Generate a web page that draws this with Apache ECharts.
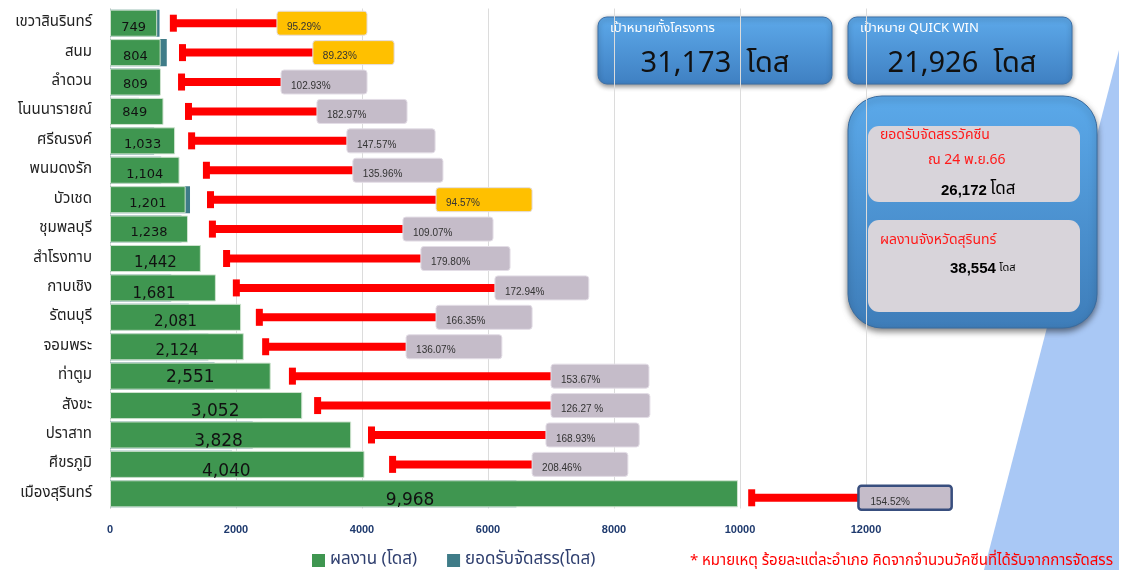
<!DOCTYPE html>
<html><head><meta charset="utf-8">
<script src="https://cdn.jsdelivr.net/npm/echarts@6/dist/echarts.min.js"></script>
<style>html,body{margin:0;padding:0;background:#fff}#c{width:1127px;height:570px}</style>
</head><body><div id="c"></div>
<script>
// ---------- data ----------
const districts = ['เขวาสินรินทร์','สนม','ลำดวน','โนนนารายณ์','ศรีณรงค์','พนมดงรัก','บัวเชด','ชุมพลบุรี','สำโรงทาบ','กาบเชิง','รัตนบุรี','จอมพระ','ท่าตูม','สังขะ','ปราสาท','ศีขรภูมิ','เมืองสุรินทร์'];
const performance = [749,804,809,849,1033,1104,1201,1238,1442,1681,2081,2124,2551,3052,3828,4040,9968];
const allocation  = [786,901,786,464,700,812,1270,1135,802,972,1251,1561,1660,2417,2266,1938,6451];
const percentLabels = ['95.29%','89.23%','102.93%','182.97%','147.57%','135.96%','94.57%','109.07%','179.80%','172.94%','166.35%','136.07%','153.67%','126.27 %','168.93%','208.46%','154.52%'];
const percentValues = [95.29,89.23,102.93,182.97,147.57,135.96,94.57,109.07,179.80,172.94,166.35,136.07,153.67,126.27,168.93,208.46,154.52];
// red marker: start, box start, box end (axis units)
const markStart = [950,1095,1080,1190,1240,1475,1540,1570,1795,1950,2315,2415,2840,3240,4095,4430,10130];
const boxStart  = [2650,3220,2715,3285,3760,3855,5175,4650,4935,6110,5175,4700,7000,7000,6920,6700,11880];
const boxEnd    = [4080,4510,4080,4715,5160,5285,6700,6080,6350,7600,6700,6220,8555,8570,8400,8220,13360];
const xTicks = [0,2000,4000,6000,8000,10000,12000];
const legendNames = ['ผลงาน (โดส)','ยอดรับจัดสรร(โดส)'];

// ---------- label styling (not data) ----------
const labelSize = [13,13,13,13,13,13,13,13,15,15,15,15,17,17,17,17,17];
const labelOffset = [[0,4],[0,4],[0,3],[-2,1],[0,4],[0,4],[0,4],[0,4],[0,5],[-9,6],[0,5],[0,4],[0,1],[9,6],[-12,7],[-11,7],[-14,7]];

const THAI = "'Noto Sans Thai','Noto Sans Thai UI','Noto Sans','DejaVu Sans',sans-serif";
const chart = echarts.init(document.getElementById('c'), null, {renderer:'canvas'});

const greenData = performance.map((v,i)=>({value:v,label:{fontSize:labelSize[i],offset:labelOffset[i]}}));
const markData = districts.map((d,i)=>[i, markStart[i], boxStart[i], boxEnd[i], percentValues[i]]);

const option = {
  animation:false,
  backgroundColor:'#ffffff',
  grid:{left:110, right:261, top:8.5, bottom:61.5, containLabel:false},
  legend:{
    data:legendNames, left:307, top:547, itemWidth:13, itemHeight:13, itemGap:30,
    icon:'rect', itemStyle:{borderWidth:0},
    textStyle:{fontSize:17, color:'#2F3F6F', fontFamily:THAI}
  },
  xAxis:{
    type:'value', min:xTicks[0], max:xTicks[xTicks.length-1], interval:2000,
    axisLine:{show:false}, axisTick:{show:false},
    axisLabel:{color:'#1F3A6E', fontWeight:'bold', fontSize:11, margin:16, fontFamily:'Arial, Liberation Sans, sans-serif',
      formatter:v=>String(v)},
    splitLine:{show:true, lineStyle:{color:'#DCDCDC', width:1}}
  },
  yAxis:{
    type:'category', data:districts, inverse:true,
    axisLine:{show:true, lineStyle:{color:'#D9D9D9'}}, axisTick:{show:false},
    axisLabel:{color:'#222', fontSize:15, margin:18, fontFamily:THAI}
  },
  series:[
    {
      name:legendNames[0], type:'bar', data:greenData, z:3,
      barCategoryGap:'8%', barGap:'-100%',
      itemStyle:{color:'#3F9650', borderColor:'#CFE3CF', borderWidth:1},
      label:{show:true, position:'inside', color:'#111', fontFamily:'Tahoma, DejaVu Sans, sans-serif',
        formatter:p=>p.value.toLocaleString('en-US')}
    },
    {
      name:legendNames[1], type:'bar', data:allocation, z:2,
      barCategoryGap:'8%', barGap:'-100%',
      itemStyle:{color:'#3F7C88'}
    },
    {
      type:'custom', z:5, data:markData, encode:{x:[1,2,3], y:0}, clip:false,
      renderItem:(params, api)=>{
        const i = params.dataIndex;
        const cat = api.value(0);
        const p0 = api.coord([api.value(1), cat]);
        const p1 = api.coord([api.value(2), cat]);
        const p2 = api.coord([api.value(3), cat]);
        const pv = api.value(4);
        const last = i === districts.length-1;
        const cy = p0[1] + (last ? 4 : 0);
        const fill = pv < 100 ? '#FFC000' : '#C5BCC9';
        return {type:'group', children:[
          {type:'rect', shape:{x:p0[0]+3, y:cy-4, width:p1[0]-p0[0]-3, height:8}, style:{fill:'#FF0000'}},
          {type:'rect', shape:{x:p0[0], y:cy-8.5, width:7, height:17}, style:{fill:'#FF0000'}},
          {type:'rect', shape:{x:p1[0], y:cy-12, width:p2[0]-p1[0], height:24, r:3},
            style:{fill:fill, stroke:last?'#384E7E':'#E3DDE6', lineWidth:last?2.5:1}},
          {type:'text', style:{text:percentLabels[i], x:p1[0]+(last?12:10), y:cy+4, fill:'#333',
            font:'10px Arial, Liberation Sans, sans-serif', verticalAlign:'middle', align:'left'}}
        ]};
      }
    }
  ],
  graphic:[
    {type:'polygon', z:0, shape:{points:[[1119,50],[1119,570],[984,570]]}, style:{fill:'#A9C8F5'}},
    // box A
    {type:'rect', shape:{x:598,y:17,width:234,height:67,r:9},
      style:{fill:new echarts.graphic.LinearGradient(0,0,0,1,[{offset:0,color:'#5DA9EA'},{offset:1,color:'#3F80C2'}]),
        stroke:'#3C70A8', lineWidth:1, shadowBlur:5, shadowColor:'rgba(0,0,0,0.45)', shadowOffsetY:2}},
    {type:'text', style:{text:'เป้าหมายทั้งโครงการ', x:610, y:29, fill:'#fff', font:'13px '+THAI, verticalAlign:'middle'}},
    {type:'text', style:{text:'31,173  โดส', x:715, y:66, fill:'#111', font:'29px '+THAI, align:'center', verticalAlign:'middle'}},
    // box B
    {type:'rect', shape:{x:848,y:17,width:224,height:67,r:9},
      style:{fill:new echarts.graphic.LinearGradient(0,0,0,1,[{offset:0,color:'#5DA9EA'},{offset:1,color:'#3F80C2'}]),
        stroke:'#3C70A8', lineWidth:1, shadowBlur:5, shadowColor:'rgba(0,0,0,0.45)', shadowOffsetY:2}},
    {type:'text', style:{text:'เป้าหมาย QUICK WIN', x:860, y:29, fill:'#fff', font:'13px '+THAI, verticalAlign:'middle'}},
    {type:'text', style:{text:'21,926  โดส', x:962, y:66, fill:'#111', font:'29px '+THAI, align:'center', verticalAlign:'middle'}},
    // box C
    {type:'rect', shape:{x:848,y:96,width:249,height:232,r:34},
      style:{fill:new echarts.graphic.LinearGradient(0,0,0,1,[{offset:0,color:'#5BA9EA'},{offset:1,color:'#3E7DB9'}]),
        stroke:'#3A6C9F', lineWidth:1, shadowBlur:6, shadowColor:'rgba(0,0,0,0.5)', shadowOffsetY:3}},
    {type:'rect', shape:{x:868,y:126,width:212,height:76,r:11}, style:{fill:'#D8D4DA'}},
    {type:'text', style:{text:'ยอดรับจัดสรรวัคซีน', x:880, y:136, fill:'#FF1A1A', font:'14px '+THAI, verticalAlign:'middle'}},
    {type:'text', style:{text:'ณ 24 พ.ย.66', x:928, y:161, fill:'#FF1A1A', font:'14px '+THAI, verticalAlign:'middle'}},
    {type:'text', style:{rich:{a:{font:'bold 15px Arial, Liberation Sans, sans-serif', fill:'#000'}, b:{font:'17px '+THAI, fill:'#000'}},
      text:'{a|26,172} {b|โดส}', x:941, y:191, verticalAlign:'middle'}},
    {type:'rect', shape:{x:868,y:220,width:212,height:92,r:11}, style:{fill:'#D8D4DA'}},
    {type:'text', style:{text:'ผลงานจังหวัดสุรินทร์', x:880, y:241, fill:'#FF1A1A', font:'14px '+THAI, verticalAlign:'middle'}},
    {type:'text', style:{rich:{a:{font:'bold 15px Arial, Liberation Sans, sans-serif', fill:'#000'}, b:{font:'11px '+THAI, fill:'#000'}},
      text:'{a|38,554} {b|โดส}', x:950, y:269, verticalAlign:'middle'}},
    // footnote
    {type:'text', z:10, style:{text:'* หมายเหตุ ร้อยละแต่ละอำเภอ คิดจากจำนวนวัคซีนที่ได้รับจากการจัดสรร', x:1113, y:562,
      fill:'#FF0000', font:'15px '+THAI, align:'right', verticalAlign:'middle'}}
  ]
};
chart.setOption(option);
</script></body></html>
